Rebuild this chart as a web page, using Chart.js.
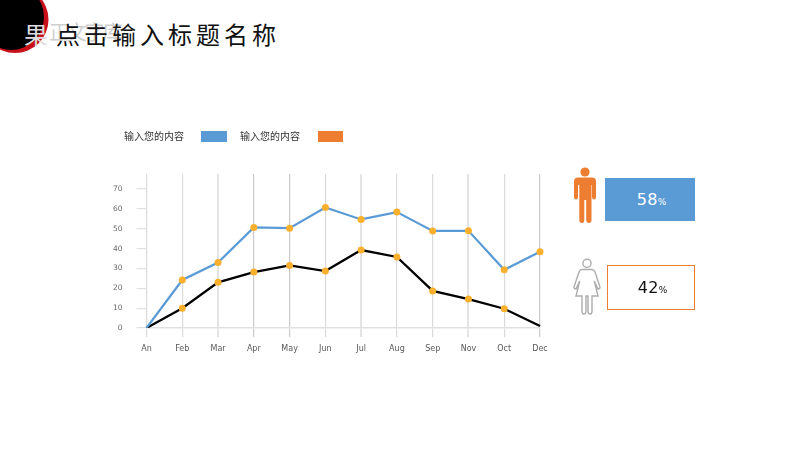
<!DOCTYPE html>
<html lang="zh">
<head>
<meta charset="utf-8">
<title>Chart</title>
<script src="https://cdn.jsdelivr.net/npm/chart.js@4"></script>
<style>
html,body{margin:0;padding:0;background:#fff;}
#stage{position:relative;width:800px;height:450px;overflow:hidden;background:#fff;font-family:"DejaVu Sans",sans-serif;}
#stage>*{position:absolute;}
canvas{left:0;top:0;}
.cjk{font-family:"Noto Sans CJK SC","Noto Sans",sans-serif;white-space:nowrap;}
#ghost{left:49px;top:18px;font-size:20px;line-height:28px;letter-spacing:-2.2px;color:#cfcfcf;}
#title{left:24px;top:16px;font-size:24px;line-height:36px;letter-spacing:4px;color:#111;}
#title span{color:#dcdcdc;margin-right:4px;}
.legText{font-size:10px;line-height:14px;color:#333;top:129px;}
.swatch{top:131px;width:26px;height:11px;}
.box{box-sizing:border-box;display:flex;align-items:center;justify-content:center;font-size:16px;letter-spacing:.3px;padding-left:3px;}
.box small{font-size:9px;margin-left:0;margin-top:4px;letter-spacing:0;}
</style>
</head>
<body>
<div id="stage">
  <svg width="60" height="56" style="left:0;top:0">
    <circle cx="15" cy="19.5" r="33.5" fill="#c8101a"/>
    <circle cx="11" cy="17" r="33" fill="#000"/>
  </svg>
  <div id="ghost" class="cjk">正文字库</div>
  <div id="title" class="cjk"></div>
  <canvas id="c" width="800" height="450"></canvas>
  <div class="cjk legText" style="left:124px" id="leg1"></div>
  <div class="swatch" style="left:201px;background:#5b9bd5"></div>
  <div class="cjk legText" style="left:240px" id="leg2"></div>
  <div class="swatch" style="left:318px;width:25px;background:#ed7d31"></div>
  <svg width="40" height="64" style="left:565px;top:162px">
    <circle cx="20" cy="10" r="4.6" fill="#ed7d31"/>
    <path d="M13 15.5H27Q31 15.5 31 19.5V35Q31 37.5 29 37.5Q27 37.5 27 35V23H26.5V58Q26.5 61 24 61Q21.2 61 21.2 58V38H19.3V58Q19.3 61 17 61Q14.3 61 14.3 58V23H13V35Q13 37.5 11 37.5Q9 37.5 9 35V19.5Q9 15.5 13 15.5Z" fill="#ed7d31"/>
  </svg>
  <svg width="40" height="66" style="left:567px;top:254px" fill="none" stroke="#adadad" stroke-width="1.4">
    <circle cx="20" cy="9.3" r="4.1"/>
    <path d="M15 15.5H25Q27 15.5 28 18L33 33Q33 35 31 35L27.3 27L31 42H25V57Q25 60 23 60Q21 60 21 57V42H19V57Q19 60 17 60Q15 60 15 57V42H9L12.7 27L9 35Q7 35 7 33L12 18Q13 15.5 15 15.5Z"/>
  </svg>
  <div class="box" style="left:605px;top:178px;width:90px;height:43px;background:#5b9bd5;color:#fff"><span id="v1"></span><small>%</small></div>
  <div class="box" style="left:607px;top:265px;width:88px;height:45px;border:1.5px solid #ed7d31;color:#111"><span id="v2"></span><small>%</small></div>
</div>
<script>
const titleLead = "果";
const titleRest = "点击输入标题名称";
const legendLabels = ["输入您的内容", "输入您的内容"];
const shares = [58, 42];
const months = ["An","Feb","Mar","Apr","May","Jun","Jul","Aug","Sep","Nov","Oct","Dec"];
const seriesBlue = [0,24.2,33,50.7,50.3,60.7,54.7,58.4,48.9,49,29.3,38.4];
const seriesBlack = [0,10,23,28.2,31.5,28.7,39.3,35.8,18.7,14.6,9.7,1];
const yTicks = [0,10,20,30,40,50,60,70];

document.getElementById('title').innerHTML = '<span>' + titleLead + '</span>' + titleRest;
document.getElementById('leg1').textContent = legendLabels[0];
document.getElementById('leg2').textContent = legendLabels[1];
document.getElementById('v1').textContent = shares[0];
document.getElementById('v2').textContent = shares[1];

const marker = '#fbb02d';
const thickGrid = new Set(["Mar","Jul","Nov"]);
const darkGrid = new Set(["Apr","May","Dec"]);

new Chart(document.getElementById('c'), {
  type: 'line',
  data: {
    labels: months,
    datasets: [
      { data: seriesBlue, borderColor:'#5b9bd5', borderWidth:2.2, tension:0,
        pointBackgroundColor:marker, pointBorderWidth:0,
        pointRadius: c => c.dataIndex === 0 ? 0 : 3.5 },
      { data: seriesBlack, borderColor:'#000', borderWidth:2.3, tension:0,
        pointBackgroundColor:marker, pointBorderWidth:0,
        pointRadius: c => (c.dataIndex === 0 || c.dataIndex === months.length-1) ? 0 : 3.5 }
    ]
  },
  options: {
    responsive:false, animation:false, events:[],
    layout:{padding:{left:0,top:174,right:260,bottom:0}},
    plugins:{legend:{display:false},tooltip:{enabled:false},title:{display:false}},
    scales:{
      x:{
        afterFit:s=>{s.height=122;},
        border:{display:true,color:'#e0e0e0',width:1.5},
        grid:{
          color:c=>{const m=months[c.index];return thickGrid.has(m)?'#e4e4e4':darkGrid.has(m)?'#cacaca':'#dadada';},
          lineWidth:c=>thickGrid.has(months[c.index])?2:1.2,
          tickLength:9
        },
        ticks:{color:'#595959',font:{family:'"DejaVu Sans"',size:8},padding:7,maxRotation:0,autoSkip:false}
      },
      y:{
        min:0,max:77.6,
        afterFit:s=>{s.width=146.5;},
        afterBuildTicks:s=>{s.ticks=yTicks.map(v=>({value:v}));},
        border:{display:false},
        grid:{drawOnChartArea:false,color:'#e0e0e0',lineWidth:1.2,tickLength:10},
        ticks:{color:'#6a6a6a',font:{family:'"DejaVu Sans"',size:7.5},padding:14}
      }
    }
  }
});
</script>
</body>
</html>
